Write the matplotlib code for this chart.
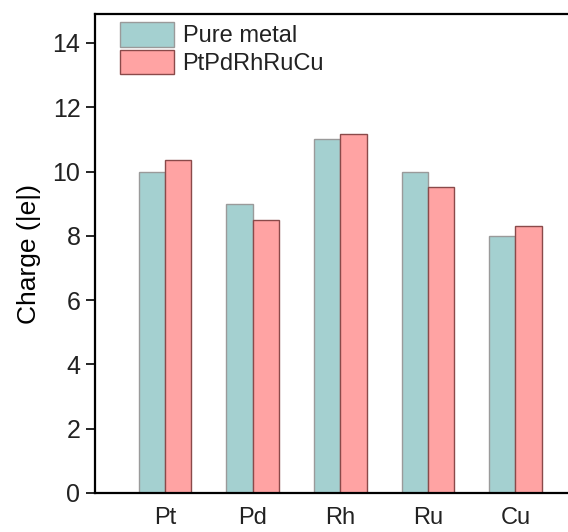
import matplotlib
matplotlib.use("Agg")
import matplotlib.pyplot as plt
import numpy as np

plt.rcParams["font.family"] = ["Liberation Sans", "DejaVu Sans"]
plt.rcParams["text.color"] = "#222222"
plt.rcParams["xtick.labelcolor"] = "#222222"
plt.rcParams["ytick.labelcolor"] = "#222222"

elements = ["Pt", "Pd", "Rh", "Ru", "Cu"]
pure_metal = [10.0, 9.0, 11.0, 10.0, 8.0]
alloy = [10.35, 8.5, 11.18, 9.52, 8.32]

x = np.arange(1, len(elements) + 1)
w = 0.3

fig = plt.figure(figsize=(5.68, 5.32), dpi=100)
ax = fig.add_axes([95 / 568, 39 / 532, 473 / 568, 479 / 532])

ax.bar(x - w / 2, pure_metal, w, color="#a4d0d0", edgecolor="#9a9a9a",
       linewidth=1.0, label="Pure metal")
ax.bar(x + w / 2, alloy, w, color="#ffa3a3", edgecolor="#8a4a4a",
       linewidth=1.0, label="PtPdRhRuCu")

ax.set_xlim(0.2, 5.6)
ax.set_ylim(0, 14.9)
ax.set_yticks(range(0, 15, 2))
ax.set_xticks(x)
ax.set_xticklabels(elements)
ax.set_ylabel("Charge (|e|)", fontsize=19, labelpad=8)

ax.tick_params(axis="y", direction="out", length=6.5, width=1.2, labelsize=18, pad=4)
ax.tick_params(axis="x", length=0, labelsize=17, pad=10)

for s in ["left", "top", "bottom"]:
    ax.spines[s].set_linewidth(1.6)
ax.spines["right"].set_visible(False)

# legend sits tight under the top spine
ax.legend(loc="upper left", bbox_to_anchor=(0.023, 1.012), frameon=False,
          fontsize=17, handlelength=2.3, handleheight=1.2,
          handletextpad=0.35, labelspacing=0.1, borderaxespad=0.2)

fig.savefig("out.png", dpi=100)
